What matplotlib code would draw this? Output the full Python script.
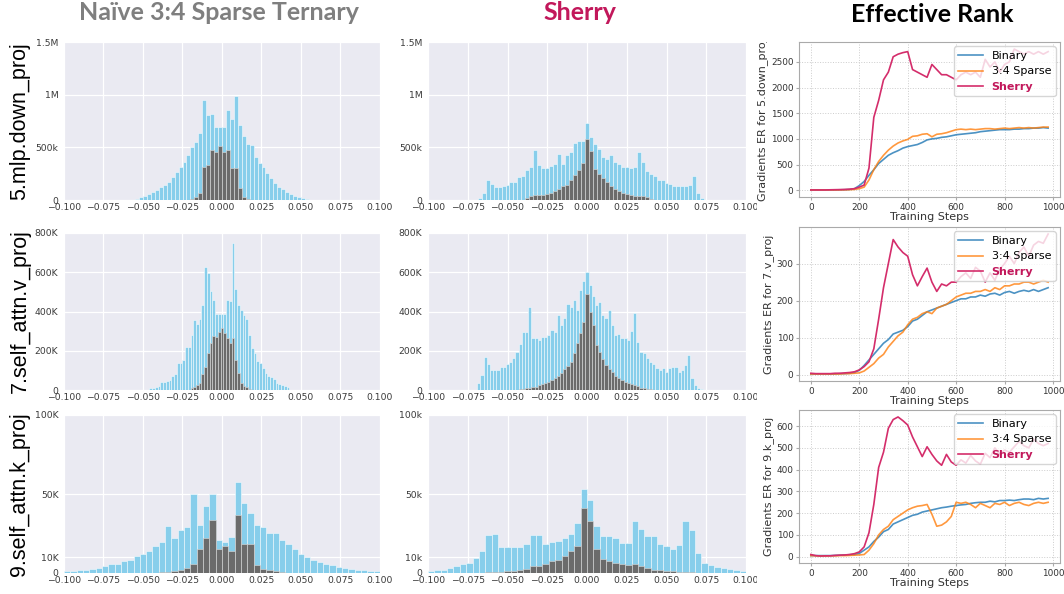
import numpy as np
import matplotlib
matplotlib.use('Agg')
import matplotlib.pyplot as plt
from matplotlib.patches import Rectangle
from matplotlib.transforms import Bbox, TransformedBbox

W, H = 1064, 594

# ---- histogram data (first bin edge, bin width, heights in thousands) ----
naive_down_start, naive_down_w = -0.055, 0.0025
naive_down_blue = [13, 25, 38, 54, 73, 95, 120, 142, 174, 221,
                   268, 316, 363, 426, 505, 552, 637, 953, 805, 820,
                   694, 694, 694, 852, 773, 988, 710, 609, 530, 520,
                   410, 353, 316, 252, 205, 164, 126, 101, 79, 57,
                   41, 25, 16, 6]
naive_down_grey = [0] * 14 + [13, 32, 63, 316, 331, 473, 457, 511, 457, 473,
                              300, 300, 110, 32, 13] + [0] * 15

naive_v_start, naive_v_w = -0.04597, 0.001736
naive_v_blue = [12, 12, 17, 22, 39, 39, 46, 51, 73, 82,
                136, 139, 153, 218, 221, 281, 357, 337, 360, 434,
                626, 598, 502, 459, 388, 388, 388, 388, 459, 451,
                748, 513, 434, 408, 383, 360, 281, 213, 190, 148,
                136, 111, 88, 73, 65, 54, 37, 29, 26, 20, 17]
naive_v_grey = [0] * 15 + [8, 17, 26, 34, 82, 119, 187, 238, 275, 272,
                           298, 315, 289, 264, 238, 264, 153, 85, 37, 22,
                           14, 7] + [0] * 14

naive_k_start, naive_k_w = -0.1, 0.004
naive_k_blue = [1.3, 1.5, 1.7, 2.1, 2.8, 3.2, 4.3, 5.5, 6.0, 7.5,
                8.1, 10.6, 11.9, 13.8, 17.0, 19.8, 29.8, 22.4, 27.2, 29.0,
                50.0, 30.4, 42.6, 50.0, 20.9, 19.8, 23.0, 57.5, 44.3, 37.9,
                30.4, 29.4, 25.1, 25.5, 20.9, 18.3, 14.9, 12.3, 10.2, 8.5,
                7.0, 6.0, 4.9, 3.8, 3.2, 2.8, 2.1, 1.7, 1.5, 1.1]
naive_k_grey = [0] * 15 + [0.4, 0.8, 1.1, 1.7, 3.2, 6.0, 15.1, 21.9, 33.7, 15.1,
                           17.2, 14.0, 36.8, 18.1, 18.1, 5.3, 2.8, 1.7, 1.1, 0.4] + [0] * 15

sherry_down_start, sherry_down_w = -0.06875, 0.0025
sherry_down_blue = [20, 70, 190, 150, 125, 125, 135, 140, 170, 170,
                    220, 225, 285, 310, 470, 330, 300, 305, 320, 340,
                    440, 340, 430, 460, 545, 560, 562, 730, 594, 531,
                    483, 411, 389, 430, 363, 341, 316, 310, 300, 310,
                    452, 357, 278, 246, 224, 193, 193, 158, 152, 130,
                    136, 130, 136, 140, 230, 70, 20]
sherry_down_grey = [0] * 12 + [19, 35, 47, 47, 47, 57, 66, 88, 104, 130,
                               142, 193, 240, 284, 354, 580, 468, 294, 246, 205,
                               167, 136, 104, 82, 66, 57, 47, 41, 41, 41,
                               25, 9] + [0] * 13

sherry_v_start, sherry_v_w = -0.069, 0.002
sherry_v_blue = [34, 77, 167, 131, 102, 102, 102, 119, 119, 131,
                 141, 162, 192, 233, 298, 298, 425, 264, 264, 255,
                 272, 272, 281, 306, 298, 383, 332, 366, 437, 425,
                 459, 408, 510, 553, 600, 536, 481, 434, 448, 383,
                 366, 408, 332, 281, 284, 264, 264, 255, 301, 391,
                 243, 196, 190, 162, 141, 131, 111, 102, 114, 94,
                 111, 119, 119, 94, 100, 128, 179, 60, 26, 12, 5]
sherry_v_grey = [0] * 13 + [3, 5, 9, 12, 14, 17, 26, 29, 34, 43,
                            51, 60, 73, 85, 107, 124, 145, 187, 238, 289,
                            349, 490, 396, 332, 230, 196, 160, 125, 105, 90,
                            70, 60, 50, 40, 34, 30, 27, 22, 12, 8,
                            5, 3] + [0] * 16

sherry_k_start, sherry_k_w = -0.1, 0.004
sherry_k_blue = [1.5, 1.7, 2.1, 3.2, 4.6, 5.7, 6.3, 9.5, 13.7, 24.2,
                 24.6, 16.2, 16.6, 16.6, 16.2, 18.3, 24.2, 24.0, 18.3, 19.6,
                 20.4, 22.1, 24.8, 31.6, 53.0, 45.9, 29.9, 23.6, 23.2, 22.1,
                 18.9, 18.9, 32.6, 27.8, 23.2, 23.6, 18.3, 16.8, 15.2, 17.9,
                 32.6, 27.4, 12.6, 6.3, 5.3, 3.8, 2.9, 2.5, 1.9, 1.5]
sherry_k_grey = [0] * 9 + [0.6, 0.8, 0.8, 1.1, 1.3, 1.7, 2.5, 4.2, 4.6, 5.9,
                           7.4, 8.4, 10.5, 13.7, 16.8, 41.0, 32.6, 15.2, 9.1, 7.6,
                           6.3, 5.5, 4.8, 5.9, 4.2, 2.9, 2.1, 1.7, 1.3, 1.1,
                           0.8, 0.6, 0.4] + [0] * 8

# ---- effective rank data ----
steps = list(range(0, 1000, 20))

down_binary = [5, 5, 5, 5, 5, 6, 8, 10, 15, 30,
               90, 170, 290, 400, 520, 600, 680, 730, 770, 820,
               850, 870, 890, 930, 980, 1000, 1010, 1030, 1040, 1060,
               1080, 1090, 1100, 1110, 1120, 1140, 1150, 1160, 1170, 1180,
               1180, 1180, 1190, 1190, 1200, 1200, 1210, 1210, 1220, 1210]
down_sparse = [5, 5, 5, 5, 5, 5, 6, 8, 10, 15,
               30, 60, 200, 400, 560, 680, 780, 860, 920, 960,
               990, 1050, 1060, 1090, 1100, 1040, 1090, 1100, 1120, 1150,
               1180, 1190, 1180, 1190, 1180, 1190, 1200, 1200, 1190, 1200,
               1210, 1200, 1210, 1220, 1210, 1220, 1210, 1220, 1230, 1230]
down_sherry = [5, 5, 5, 5, 8, 10, 12, 15, 20, 30,
               60, 100, 430, 1420, 1750, 2150, 2300, 2600, 2650, 2680,
               2700, 2350, 2300, 2250, 2200, 2450, 2350, 2250, 2250, 2200,
               2150, 2250, 2300, 2250, 2300, 2200, 2550, 2400, 2500, 2300,
               2450, 2500, 2750, 2700, 2650, 2700, 2650, 2700, 2650, 2700]

v_binary = [2, 2, 2, 2, 2, 2, 3, 3, 4, 6,
            12, 25, 40, 55, 70, 85, 95, 110, 115, 120,
            130, 145, 150, 160, 170, 175, 180, 185, 190, 195,
            200, 205, 205, 210, 210, 215, 212, 218, 220, 215,
            222, 225, 220, 225, 228, 225, 230, 225, 230, 235]
v_sparse = [2, 2, 2, 2, 2, 2, 2, 3, 3, 4,
            5, 10, 20, 30, 45, 55, 75, 90, 105, 115,
            135, 150, 155, 165, 170, 165, 180, 185, 190, 200,
            210, 215, 220, 220, 225, 225, 230, 225, 235, 230,
            240, 240, 245, 245, 250, 250, 245, 250, 255, 250]
v_sherry = [4, 3, 3, 3, 3, 4, 4, 5, 6, 8,
            13, 22, 35, 70, 150, 235, 300, 365, 345, 330,
            320, 270, 240, 265, 288, 250, 225, 245, 240, 250,
            250, 265, 275, 260, 290, 280, 250, 275, 255, 285,
            300, 320, 300, 330, 345, 320, 350, 360, 355, 380]

k_binary = [5, 5, 5, 5, 5, 6, 7, 8, 9, 10,
            15, 30, 45, 70, 90, 115, 125, 150, 160, 170,
            180, 190, 195, 205, 210, 215, 220, 225, 228, 232,
            235, 238, 240, 245, 248, 250, 250, 255, 252, 258,
            258, 260, 258, 262, 265, 265, 262, 268, 265, 268]
k_sparse = [5, 4, 3, 3, 4, 4, 5, 5, 6, 7,
            8, 10, 30, 60, 100, 125, 140, 170, 185, 200,
            215, 225, 232, 235, 240, 195, 140, 145, 160, 185,
            250, 245, 250, 240, 225, 245, 235, 225, 245, 240,
            250, 235, 245, 250, 240, 235, 245, 250, 245, 250]
k_sherry = [10, 5, 3, 4, 4, 6, 7, 8, 10, 14,
            22, 45, 110, 240, 410, 480, 590, 630, 642, 625,
            605, 550, 505, 460, 505, 470, 440, 420, 470, 435,
            420, 445, 430, 465, 440, 425, 475, 455, 500, 470,
            490, 480, 505, 530, 510, 500, 540, 520, 510, 520]

row_names = ['5.mlp.down_proj', '7.self_attn.v_proj', '9.self_attn.k_proj']
er_labels = ['Gradients ER for 5.down_proj', 'Gradients ER for 7.v_proj',
             'Gradients ER for 9.k_proj']

SHERRY_TXT = '#c2185b'
SHERRY_LINE = '#d42d6b'


def box(l, t, r, b):
    return [l / W, 1 - b / H, (r - l) / W, (b - t) / H]


def draw_hist(ax, start, w, blue, grey, yticks, ylabels):
    edges = start + w * np.arange(len(blue) + 1)
    blue = np.array(blue) * 1000
    grey = np.array(grey) * 1000
    ax.bar(edges[:-1], blue, width=w, align='edge', color='#87ceeb',
           edgecolor='#f4fbfe', linewidth=0.4)
    m = grey > 0
    ax.bar(edges[:-1][m], grey[m], width=w, align='edge', color='#6b6b6b',
           edgecolor='#dddddd', linewidth=0.4)
    ax.set_facecolor('#eaeaf2')
    ax.set_axisbelow(True)
    ax.grid(True, color='white', linewidth=0.9)
    for s in ax.spines.values():
        s.set_visible(False)
    ax.set_xlim(-0.1, 0.1)
    ax.set_xticks(np.arange(-0.1, 0.1001, 0.025))
    ax.set_ylim(0, yticks[-1])
    ax.set_yticks(yticks)
    ax.set_yticklabels(ylabels)
    ax.tick_params(length=0, labelsize=6.7, labelcolor='#3a3a3a')
    ax.tick_params(axis='y', pad=4)
    ax.tick_params(axis='x', pad=2)


def draw_er(ax, binary, sparse, sherry, ylabel):
    ax.plot(steps, binary, color='#1f77b4', alpha=0.8, lw=1.2, label='Binary')
    ax.plot(steps, sparse, color='#ff7f0e', alpha=0.8, lw=1.2, label='3:4 Sparse')
    ax.plot(steps, sherry, color=SHERRY_LINE, lw=1.2, label='Sherry')
    ax.set_xticks([0, 200, 400, 600, 800, 1000])
    ax.grid(True, linestyle=':', color='#cccccc', linewidth=0.7)
    for s in ax.spines.values():
        s.set_color('#aaaaaa')
        s.set_linewidth(0.8)
    ax.tick_params(labelsize=6.4, length=2, color='#aaaaaa', labelcolor='#333333', pad=2)
    ax.set_xlabel('Training Steps', fontsize=8, labelpad=0, color='#333333')
    ax.set_ylabel(ylabel, fontsize=8, labelpad=2, color='#333333')
    leg = ax.legend(loc='upper right', fontsize=8, framealpha=0.8,
                    edgecolor='#cccccc', borderaxespad=0.4, handlelength=2.2)
    t = leg.get_texts()[2]
    t.set_color(SHERRY_TXT)
    t.set_fontweight('bold')
    return leg


fig = plt.figure(figsize=(W / 100, H / 100), dpi=100)

hist_rows = [(42, 200), (233, 390), (415, 573)]
er_rows = [(42, 197), (227, 381), (410, 563)]

naive = [(naive_down_start, naive_down_w, naive_down_blue, naive_down_grey),
         (naive_v_start, naive_v_w, naive_v_blue, naive_v_grey),
         (naive_k_start, naive_k_w, naive_k_blue, naive_k_grey)]
sherry = [(sherry_down_start, sherry_down_w, sherry_down_blue, sherry_down_grey),
          (sherry_v_start, sherry_v_w, sherry_v_blue, sherry_v_grey),
          (sherry_k_start, sherry_k_w, sherry_k_blue, sherry_k_grey)]
yt = [([0, 5e5, 1e6, 1.5e6], ['0', '500k', '1M', '1.5M'], ['0', '500k', '1M', '1.5M']),
      ([0, 2e5, 4e5, 6e5, 8e5], ['0', '200K', '400K', '600K', '800K'],
       ['0', '200K', '400K', '600K', '800K']),
      ([0, 1e4, 5e4, 1e5], ['0', '10K', '50K', '100K'], ['0', '10k', '50k', '100k'])]
er = [(down_binary, down_sparse, down_sherry),
      (v_binary, v_sparse, v_sherry),
      (k_binary, k_sparse, k_sherry)]

for i in range(3):
    t, b = hist_rows[i]
    ax1 = fig.add_axes(box(64, t, 380, b))
    draw_hist(ax1, *naive[i], yt[i][0], yt[i][1])
    ax2 = fig.add_axes(box(428, t, 746, b))
    draw_hist(ax2, *sherry[i], yt[i][0], yt[i][2])
    fig.text(20 / W, 1 - (t + b) / 2 / H, row_names[i], rotation=90,
             ha='center', va='center', fontsize=15.5, family='Liberation Sans')

# white strip that cuts the right end of the middle column labels
fig.add_artist(Rectangle((757 / W, 0), 1 - 757 / W, 1, transform=fig.transFigure,
                         facecolor='white', edgecolor='none', zorder=0.5))

for i in range(3):
    t, b = er_rows[i]
    ax3 = fig.add_axes(box(799, t, 1060, b), zorder=1)
    draw_er(ax3, *er[i], er_labels[i])
    if i == 0:
        lab = ax3.yaxis.label
        lab.set_clip_box(TransformedBbox(Bbox([[0, 0], [1, 1 - 42 / H]]), fig.transFigure))

fig.text(219 / W, 1 - 13 / H, 'Naïve 3:4 Sparse Ternary', ha='center', va='center',
         fontsize=18, fontweight='bold', family='Lato', color='#7f7f7f')
fig.text(580 / W, 1 - 13 / H, 'Sherry', ha='center', va='center',
         fontsize=18, fontweight='bold', family='Lato', color=SHERRY_TXT)
fig.text(932 / W, 1 - 14 / H, 'Effective Rank', ha='center', va='center',
         fontsize=18, fontweight='bold', family='Lato', color='black')

fig.savefig('out.png', dpi=100)
